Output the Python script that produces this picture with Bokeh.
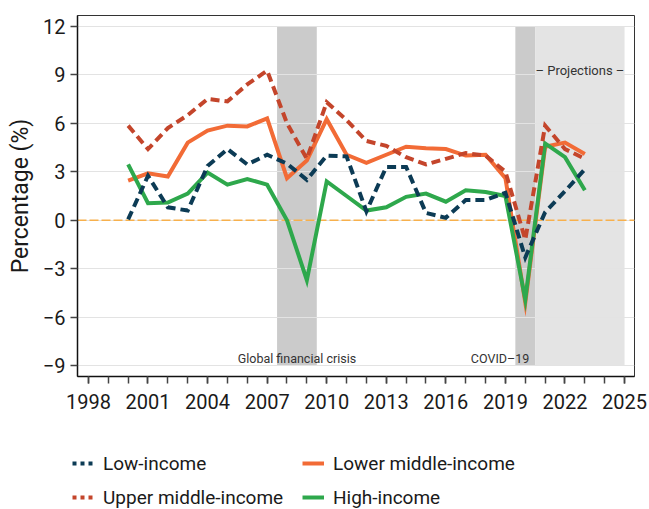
from bokeh.plotting import figure
from bokeh.layouts import column
from bokeh.models import (Range1d, FixedTicker, SingleIntervalTicker, Span, Legend,
                          LegendItem, ColumnDataSource)
from bokeh.core.properties import value
from bokeh.embed import file_html
from bokeh.resources import INLINE

# ---------------- data ----------------
years = list(range(2000, 2024))
low_income = [0.05, 2.75, 0.8, 0.6, 3.35, 4.4, 3.45, 4.05, 3.5, 2.5, 4.0, 3.95,
              0.55, 3.3, 3.3, 0.45, 0.15, 1.25, 1.25, 1.7, -2.3, 0.5, 1.8, 3.15]
lower_middle = [2.45, 2.9, 2.7, 4.8, 5.55, 5.85, 5.8, 6.3, 2.6, 3.7, 6.25, 4.05,
                3.55, 4.05, 4.55, 4.45, 4.4, 4.0, 4.05, 2.6, -5.1, 4.55, 4.8, 4.1]
upper_middle = [5.85, 4.4, 5.7, 6.5, 7.5, 7.35, 8.4, 9.25, 6.0, 3.8, 7.3, 6.2,
                4.9, 4.6, 3.9, 3.45, 3.8, 4.15, 4.0, 3.0, -1.2, 5.85, 4.4, 3.8]
high_income = [3.45, 1.05, 1.1, 1.65, 2.95, 2.2, 2.55, 2.2, 0.0, -3.7, 2.4, 1.5,
               0.6, 0.8, 1.45, 1.65, 1.15, 1.85, 1.75, 1.5, -4.9, 4.75, 3.9, 1.85]

series_names = ["Low-income", "Lower middle-income", "Upper middle-income", "High-income"]

y_ticks = [-9, -6, -3, 0, 3, 6, 9, 12]
y_tick_labels = ["\u22129", "\u22126", "\u22123", "0", "3", "6", "9", "12"]

shade_start = [2007.5, 2019.5, 2020.5]
shade_end = [2009.5, 2020.5, 2025.0]
shade_colors = ["#cbcbcb", "#cbcbcb", "#e4e4e4"]
shade_bottom = -9
shade_top = 12

# ---------------- styles ----------------
FONT = "Roboto"
C_LOW = "#0c3b55"
C_LOWER = "#f26b36"
C_UPPER = "#c4452b"
C_HIGH = "#2ea84c"

p = figure(width=649, height=443,
           x_range=Range1d(1997.45, 2025.5), y_range=Range1d(-9.66, 12.66),
           output_backend="svg", toolbar_location=None,
           min_border_left=77, min_border_right=15, min_border_top=15, min_border_bottom=67)

p.background_fill_color = "white"
p.border_fill_color = "white"
p.outline_line_color = "#333333"
p.outline_line_width = 1

# grid
p.xgrid.grid_line_color = None
p.ygrid.ticker = FixedTicker(ticks=y_ticks)
p.ygrid.grid_line_color = "#e3e3e3"
p.ygrid.grid_line_width = 1.2

# zero line
zero = Span(location=0, dimension="width", line_color="#f7b04c", line_dash="9 3",
            line_width=1.5, level="underlay")
p.add_layout(zero)

# shading
shades = ColumnDataSource(dict(left=shade_start, right=shade_end, color=shade_colors))
p.quad(left="left", right="right", bottom=shade_bottom, top=shade_top, source=shades,
       fill_color="color", line_color=None, level="underlay")
p.hspan(y=[0], line_color="#888888", line_alpha=0.35, line_width=1.2, level="underlay")

# annotations
lab_x = [(shade_start[0] + shade_end[0]) / 2, shade_end[1] - 0.3,
         (shade_start[2] + shade_end[2]) / 2]
lab_y = [shade_bottom + 0.45, shade_bottom + 0.45, 9.25]
lab_t = ["Global financial crisis", "COVID\u201319", "\u2013 Projections \u2013"]
lab_align = ["center", "right", "center"]
lab_size = ["12.5px", "12.5px", "13px"]
p.text(x=lab_x, y=lab_y, text=lab_t, text_align=lab_align, text_baseline="middle",
       text_font=value(FONT), text_font_size=lab_size, text_color="#333333")

# data lines
lw = 4
p.line(years, lower_middle, line_color=C_LOWER, line_width=lw, line_join="miter")
p.line(years, high_income, line_color=C_HIGH, line_width=lw, line_join="miter")
p.line(years, low_income, line_color=C_LOW, line_width=lw, line_dash="9 5", line_join="miter")
p.line(years, upper_middle, line_color=C_UPPER, line_width=lw, line_dash="9 5", line_join="miter")

# axes
for ax in (p.xaxis[0], p.yaxis[0]):
    ax.axis_line_color = "#111111"
    ax.axis_line_width = 1.5
    ax.major_tick_line_color = "#444444"
    ax.major_tick_line_width = 1.5
    ax.major_tick_in = 0
    ax.major_tick_out = 7
    ax.major_label_text_font = FONT
    ax.major_label_text_font_size = "20px"
    ax.major_label_text_color = "#1a1a1a"

p.xaxis.ticker = SingleIntervalTicker(interval=3, num_minor_ticks=3)
p.xaxis.minor_tick_line_color = "#444444"
p.xaxis.minor_tick_line_width = 1.5
p.xaxis.minor_tick_in = 0
p.xaxis.minor_tick_out = 7
p.xaxis.major_label_standoff = 10

p.yaxis.ticker = FixedTicker(ticks=y_ticks)
p.yaxis.major_label_overrides = dict(zip(y_ticks, y_tick_labels))
p.yaxis.minor_tick_line_color = None
p.yaxis.major_label_standoff = 5
p.yaxis.axis_label = "Percentage (%)"
p.yaxis.axis_label_text_font = FONT
p.yaxis.axis_label_text_font_size = "23px"
p.yaxis.axis_label_text_font_style = "normal"
p.yaxis.axis_label_text_color = "#1a1a1a"
p.yaxis.axis_label_standoff = 6

# ---------------- legend (separate strip below the plot) ----------------
lf = figure(width=649, height=66, x_range=Range1d(0, 1), y_range=Range1d(0, 1),
            output_backend="svg", toolbar_location=None,
            min_border=0, min_border_left=0, min_border_right=0,
            min_border_top=0, min_border_bottom=0)
legend_x = -5
try:
    lf.frame_align = False
    legend_x = 72
except Exception:
    legend_x = -5
lf.xaxis.visible = False
lf.yaxis.visible = False
lf.grid.visible = False
lf.outline_line_color = None
lf.background_fill_color = "white"
lf.border_fill_color = "white"

# one-point lines (draw nothing in the frame; give the legend its samples)
lg_low = lf.line([-1], [-1], line_color=C_LOW, line_width=4, line_dash="4 4")
lg_lower = lf.line([-1], [-1], line_color=C_LOWER, line_width=4)
lg_upper = lf.line([-1], [-1], line_color=C_UPPER, line_width=4, line_dash="4 4")
lg_high = lf.line([-1], [-1], line_color=C_HIGH, line_width=4)

legend = Legend(items=[
    LegendItem(label=series_names[0], renderers=[lg_low]),
    LegendItem(label=series_names[1], renderers=[lg_lower]),
    LegendItem(label=series_names[2], renderers=[lg_upper]),
    LegendItem(label=series_names[3], renderers=[lg_high]),
], orientation="horizontal", ncols=2, location=(legend_x, 0))
legend.label_text_font = FONT
legend.label_text_font_size = "19px"
legend.label_text_color = "#1a1a1a"
legend.glyph_width = 22
legend.glyph_height = 24
legend.label_height = 24
legend.label_width = 189
legend.label_standoff = 9
legend.spacing = 10
legend.padding = 0
legend.margin = 0
legend.background_fill_alpha = 0
legend.border_line_color = None
lf.add_layout(legend)

layout = column(p, lf, spacing=0)
open("out.html", "w").write(file_html(layout, INLINE))
